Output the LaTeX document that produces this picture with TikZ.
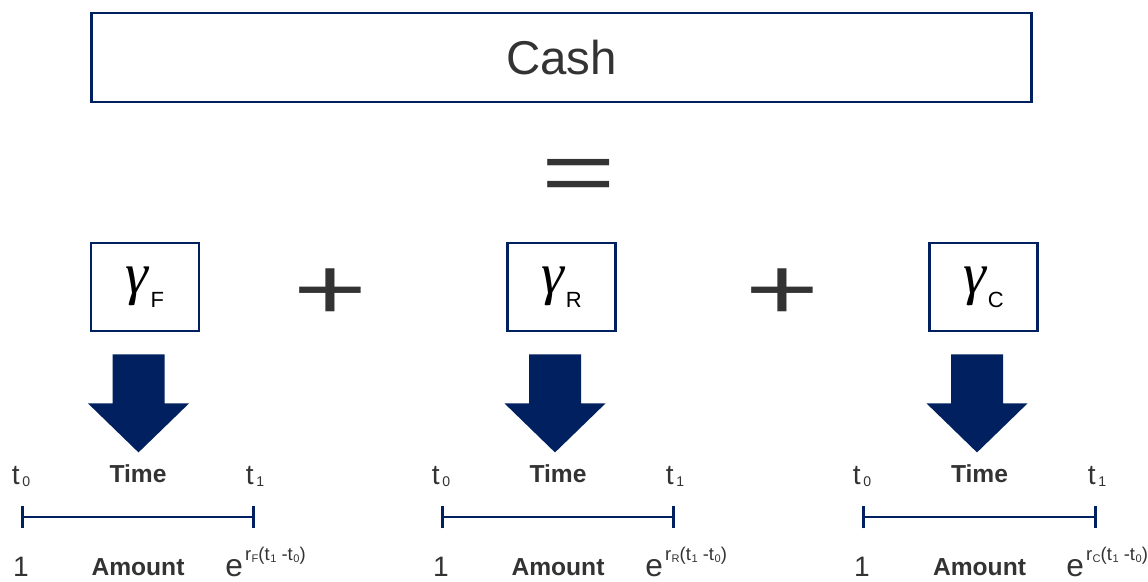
\documentclass[tikz,border=0pt]{standalone}
\usepackage{fontspec}
\setmainfont{Liberation Sans}
\newfontfamily\grk{Liberation Serif}
\usepackage{tikz}
\usetikzlibrary{positioning,arrows.meta,calc}
\definecolor{navy}{RGB}{0,32,96}
\definecolor{txtgray}{RGB}{51,51,51}
\tikzset{
  cashbox/.style={draw=navy, line width=1.6pt, minimum width=18.8cm, minimum height=1.78cm,
                  font=\fontsize{27}{27}\selectfont, text=txtgray},
  rbox/.style={draw=navy, line width=1.6pt, minimum width=2.16cm, minimum height=1.76cm,
               inner sep=0pt, text=black},
  opsign/.style={text=txtgray, inner sep=0pt, anchor=base, font=\fontsize{50}{50}\selectfont},
  blockarrow/.style={fill=navy},
  tline/.style={{Bar[width=13pt]}-{Bar[width=13pt]}, line width=1.5pt, navy},
  tlbl/.style={font=\fontsize{16}{16}\selectfont, text=txtgray, anchor=base, inner sep=0pt},
  hd/.style={font=\fontsize{14}{14}\selectfont\bfseries, text=txtgray, anchor=base, inner sep=0pt},
  expo/.style={font=\fontsize{18}{18}\selectfont, text=txtgray, anchor=base west, inner sep=0pt}
}
\newcommand{\gam}[1]{{\grk\itshape\fontsize{33}{33}\selectfont γ}\kern1pt\raisebox{-8pt}{\fontsize{12.5}{12.5}\selectfont #1}}
\newcommand{\sub}[1]{\kern1.5pt\raisebox{-1.5pt}{\fontsize{8}{8}\selectfont #1}}
\newcommand{\ssub}[1]{\kern0.3pt\raisebox{-1.2pt}{\fontsize{6.3}{6.3}\selectfont #1}}
\newcommand{\eexp}[1]{e\kern1.2pt\raisebox{9pt}{\fontsize{10.5}{10.5}\selectfont r\ssub{#1}(t\ssub{1} -t\ssub{0})}}

\begin{document}
\begin{tikzpicture}[]
\useasboundingbox (0,0) rectangle (22.96,11.62);
\node (cash) [cashbox] at (11.23,10.47) {Cash};
\node (eq) [opsign] at (11.58,7.57) {\scalebox{1.45}[1]{=}};
\node (gF) [rbox] at (2.9,5.88) {\gam{F}};
\node (gR) [rbox] at (11.23,5.88) {\gam{R}};
\node (gC) [rbox] at (19.67,5.88) {\gam{C}};
\node (p1) [opsign] at (6.6,5.24) {\scalebox{1.44}[1]{+}};
\node (p2) [opsign] at (15.64,5.24) {\scalebox{1.44}[1]{+}};
% block arrows under the rate boxes
\fill[blockarrow] ($(gF.south)+(-0.65,-0.44)$) -- ++(1.04,0) -- ++(0,-0.98) -- ++(0.49,0) -- ++(-1.01,-0.98) -- ++(-1.01,0.98) -- ++(0.49,0) -- cycle;
\fill[blockarrow] ($(gR.south)+(-0.65,-0.44)$) -- ++(1.04,0) -- ++(0,-0.98) -- ++(0.49,0) -- ++(-1.01,-0.98) -- ++(-1.01,0.98) -- ++(0.49,0) -- cycle;
\fill[blockarrow] ($(gC.south)+(-0.65,-0.44)$) -- ++(1.04,0) -- ++(0,-0.98) -- ++(0.49,0) -- ++(-1.01,-0.98) -- ++(-1.01,0.98) -- ++(0.49,0) -- cycle;
% time lines
\coordinate (aF) at (0.42,1.28); \coordinate (bF) at (5.1,1.28);
\coordinate (aR) at (8.82,1.28); \coordinate (bR) at (13.5,1.28);
\coordinate (aC) at (17.24,1.28); \coordinate (bC) at (21.94,1.28);
\draw[tline] (aF) -- (bF);
\draw[tline] (aR) -- (bR);
\draw[tline] (aC) -- (bC);
\node (t0F) [tlbl] at ($(aF)+(0,0.66)$) {t\sub{0}};
\node (t1F) [tlbl] at ($(bF)+(0,0.66)$) {t\sub{1}};
\node (tmF) [hd] at ($(aF)!0.5!(bF)+(0,0.70)$) {Time};
\node (oneF) [tlbl] at ($(aF)+(0,-1.18)$) {1};
\node (amF) [hd] at ($(aF)!0.5!(bF)+(0,-1.16)$) {Amount};
\node (exF) [expo] at ($(bF)+(-0.6,-1.18)$) {\eexp{F}};
\node (t0R) [tlbl] at ($(aR)+(0,0.66)$) {t\sub{0}};
\node (t1R) [tlbl] at ($(bR)+(0,0.66)$) {t\sub{1}};
\node (tmR) [hd] at ($(aR)!0.5!(bR)+(0,0.70)$) {Time};
\node (oneR) [tlbl] at ($(aR)+(0,-1.18)$) {1};
\node (amR) [hd] at ($(aR)!0.5!(bR)+(0,-1.16)$) {Amount};
\node (exR) [expo] at ($(bR)+(-0.6,-1.18)$) {\eexp{R}};
\node (t0C) [tlbl] at ($(aC)+(0,0.66)$) {t\sub{0}};
\node (t1C) [tlbl] at ($(bC)+(0,0.66)$) {t\sub{1}};
\node (tmC) [hd] at ($(aC)!0.5!(bC)+(0,0.70)$) {Time};
\node (oneC) [tlbl] at ($(aC)+(0,-1.18)$) {1};
\node (amC) [hd] at ($(aC)!0.5!(bC)+(0,-1.16)$) {Amount};
\node (exC) [expo] at ($(bC)+(-0.62,-1.18)$) {\eexp{C}};
\end{tikzpicture}
\end{document}
